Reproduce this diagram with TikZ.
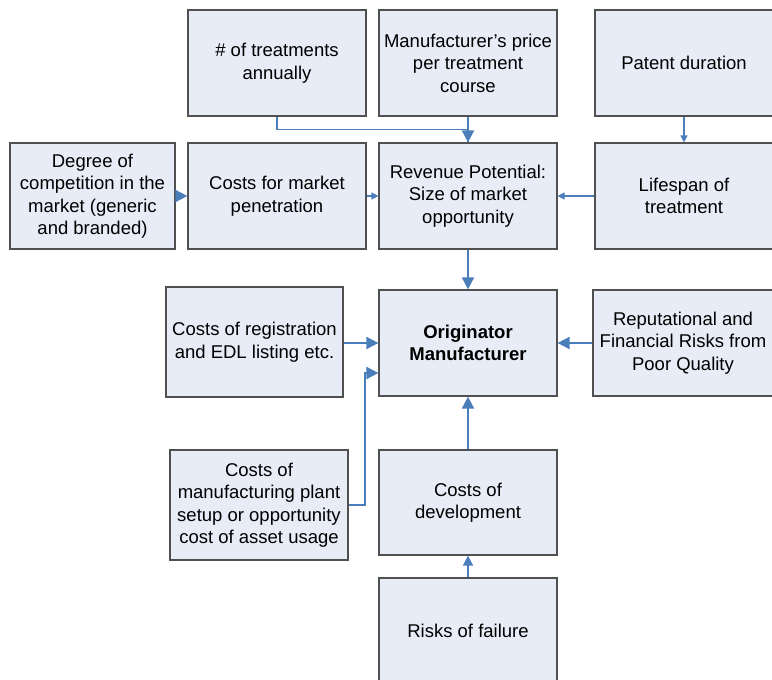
\documentclass[tikz,border=0pt]{standalone}
\usepackage{fontspec}
\setmainfont{Liberation Sans}
\usetikzlibrary{arrows.meta}
\definecolor{boxfill}{RGB}{231,236,247}
\definecolor{boxline}{RGB}{80,80,80}
\definecolor{linkblue}{RGB}{74,126,187}

\begin{document}
\begin{tikzpicture}[x=1pt, y=-1pt]
  \tikzset{factorbox/.style={draw=boxline, fill=boxfill, line width=1.2pt, minimum width=178pt, minimum height=106pt, align=center, font=\fontsize{18.5}{22.5}\selectfont, anchor=center, inner sep=2pt},
    biglink/.style={draw=linkblue, line width=1.8pt, -{Triangle[length=12pt, width=12pt]}},
    thinlink/.style={draw=linkblue, line width=1.2pt, -{Triangle[length=7pt, width=7pt]}}}
  % Page frame, the reference is cut at the right and bottom
  \useasboundingbox (0,0) rectangle (772,680);
  \clip (0,0) rectangle (772,680);
  % Top row
  \node[factorbox] (treatments) at (277,63) {\# of treatments\\annually};
  \node[factorbox] (price) at (468,63) {Manufacturer’s price\\per treatment\\course};
  \node[factorbox] (patent) at (684,63) {Patent duration};
  % Second row
  \node[factorbox, minimum width=165pt] (competition) at (92.5,196) {Degree of\\competition in the\\market (generic\\and branded)};
  \node[factorbox] (penetration) at (277,196) {Costs for market\\penetration};
  \node[factorbox] (revenue) at (468,196) {Revenue Potential:\\Size of market\\opportunity};
  \node[factorbox] (lifespan) at (684,196) {Lifespan of\\treatment};
  % Middle row
  \node[factorbox, minimum width=177pt, minimum height=110pt] (registration) at (254.5,342) {Costs of registration\\and EDL listing etc.};
  \node[factorbox] (originator) at (468,343) {\textbf{Originator}\\\textbf{Manufacturer}};
  \node[factorbox, minimum width=180pt] (reputation) at (683,343) {Reputational and\\Financial Risks from\\Poor Quality};
  % Lower rows
  \node[factorbox, minimum height=110pt] (plant) at (259,505) {Costs of\\manufacturing plant\\setup or opportunity\\cost of asset usage};
  \node[factorbox, minimum height=105pt] (development) at (468,502.5) {Costs of\\development};
  \node[factorbox] (failure) at (468,631) {Risks of failure};
  % Connectors
  \draw[biglink, line width=1.6pt, -] (treatments.south) -- ++(0,13) -| (revenue.north);
  \draw[biglink] (price.south) -- (revenue.north);
  \draw[thinlink] (patent.south) -- (lifespan.north);
  \draw[biglink] (competition.east) -- (penetration.west);
  \draw[thinlink] (penetration.east) -- (revenue.west);
  \draw[thinlink] (lifespan.west) -- (revenue.east);
  \draw[biglink] (revenue.south) -- (originator.north);
  \draw[biglink] (registration.east |- originator.west) -- (originator.west);
  \draw[biglink] (reputation.west) -- (originator.east);
  \draw[biglink] (plant.east) -- ++(16,0) |- ([yshift=-30pt]originator.west);
  \draw[biglink] (development.north) -- (originator.south);
  \draw[biglink, line width=1.5pt, -{Triangle[length=10pt, width=10pt]}] (failure.north) -- (development.south);
\end{tikzpicture}
\end{document}
